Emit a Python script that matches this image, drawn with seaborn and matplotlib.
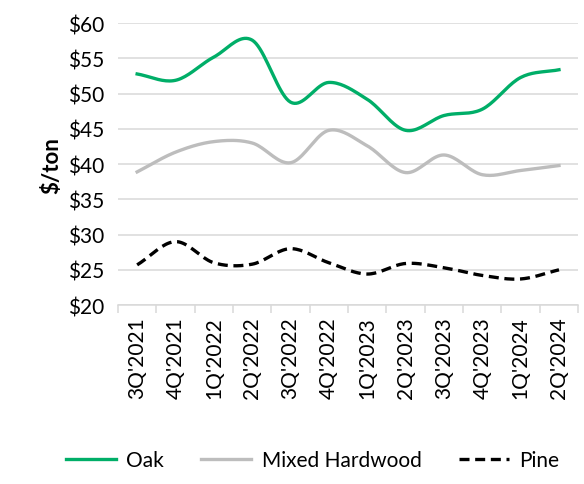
import numpy as np
import pandas as pd
import matplotlib
matplotlib.use("Agg")
import matplotlib.pyplot as plt
import seaborn as sns
from matplotlib.ticker import FixedLocator

quarters = ["3Q'2021", "4Q'2021", "1Q'2022", "2Q'2022", "3Q'2022", "4Q'2022",
            "1Q'2023", "2Q'2023", "3Q'2023", "4Q'2023", "1Q'2024", "2Q'2024"]
oak = [52.8, 51.9, 55.2, 57.6, 48.8, 51.6, 49.2, 44.8, 46.9, 47.8, 52.3, 53.4]
mixed_hardwood = [38.9, 41.7, 43.2, 43.0, 40.2, 44.8, 42.6, 38.8, 41.3, 38.5, 39.1, 39.8]
pine = [25.7, 29.0, 26.0, 25.8, 28.0, 26.0, 24.4, 25.9, 25.3, 24.2, 23.7, 25.0]


def smooth(y, n=20):
    # Catmull-Rom curve through the points, like Excel's "smoothed line"
    y = np.asarray(y, dtype=float)
    p = np.concatenate([[2 * y[0] - y[1]], y, [2 * y[-1] - y[-2]]])
    xs, ys = [], []
    for i in range(len(y) - 1):
        t = np.linspace(0, 1, n, endpoint=False)
        p0, p1, p2, p3 = p[i], p[i + 1], p[i + 2], p[i + 3]
        seg = 0.5 * (2 * p1 + (-p0 + p2) * t + (2 * p0 - 5 * p1 + 4 * p2 - p3) * t ** 2
                     + (-p0 + 3 * p1 - 3 * p2 + p3) * t ** 3)
        xs.extend(i + t)
        ys.extend(seg)
    xs.append(len(y) - 1)
    ys.append(y[-1])
    return pd.DataFrame({"x": xs, "y": ys})


plt.rcParams["font.family"] = ["Lato", "DejaVu Sans"]
FS = 15

fig, ax = plt.subplots(figsize=(5.84, 4.85), dpi=100)
fig.subplots_adjust(left=0.202, right=0.99, top=0.95, bottom=0.369)

series = [("Oak", oak, "#00AE68", "-"),
          ("Mixed Hardwood", mixed_hardwood, "#BDBDBD", "-"),
          ("Pine", pine, "black", "--")]
for name, vals, color, ls in series:
    d = smooth(vals)
    sns.lineplot(data=d, x="x", y="y", ax=ax, color=color, linewidth=2.4,
                 label=name, sort=False, estimator=None)
    if ls == "--":
        ax.lines[-1].set_dashes((3, 1.7))

ax.set_xlim(-0.5, len(quarters) - 0.5)
ax.set_ylim(20, 60)
ax.set_yticks(range(20, 61, 5))
ax.set_yticklabels([f"${v}" for v in range(20, 61, 5)], fontsize=FS)
ax.yaxis.grid(True, color="#D9D9D9", linewidth=1.1)
ax.set_axisbelow(True)

ax.xaxis.set_major_locator(FixedLocator(np.arange(-0.5, len(quarters), 1.0)))
ax.xaxis.set_minor_locator(FixedLocator(np.arange(len(quarters))))
ax.set_xticklabels([], minor=False)
ax.set_xticklabels(quarters, minor=True, rotation=90, fontsize=FS)
ax.tick_params(axis="x", which="major", length=6, color="#D9D9D9", width=1.1)
ax.tick_params(axis="x", which="minor", length=0, pad=8)
ax.tick_params(axis="y", length=0, pad=10)

for s in ["top", "right", "left"]:
    ax.spines[s].set_visible(False)
ax.spines["bottom"].set_color("#D9D9D9")
ax.spines["bottom"].set_linewidth(1.1)

ax.set_xlabel("")
ax.set_ylabel("$/ton", fontsize=16, fontweight="bold", labelpad=4)

ax.legend_.remove()
handles, labels = ax.get_legend_handles_labels()
fig.legend(handles, labels, loc="lower right", bbox_to_anchor=(0.99, -0.01), ncol=3,
           frameon=False, fontsize=FS, handlelength=2.4, columnspacing=1.8,
           handletextpad=0.5)

fig.savefig("out.png", dpi=100)
